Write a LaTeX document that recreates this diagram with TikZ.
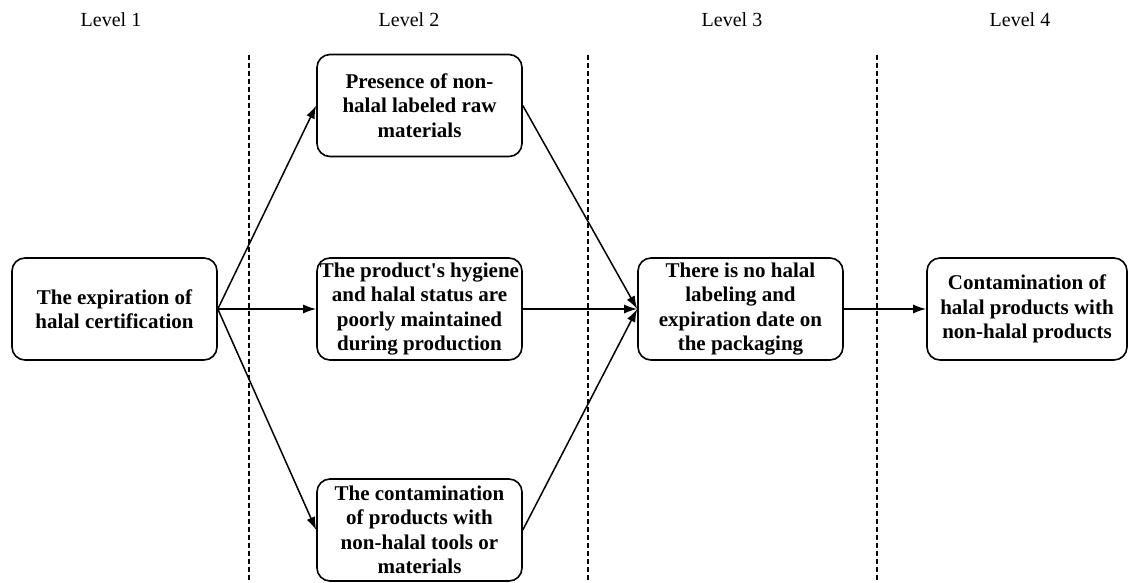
\documentclass[tikz,border=0pt]{standalone}
\usepackage{fontspec}
\setmainfont{Liberation Serif}
\usetikzlibrary{arrows.meta}
\begin{document}
\begin{tikzpicture}[x=1pt,y=-1pt,
  box/.style={draw, line width=1.6pt, rounded corners=13pt, minimum width=205pt, minimum height=102pt,
    align=center, inner sep=0pt, font=\fontsize{21}{24.5}\selectfont\bfseries},
  lvl/.style={font=\fontsize{20}{24}\selectfont},
  sep/.style={line width=1.5pt, dash pattern=on 5pt off 3pt},
  arr/.style={-{Latex[length=13pt,width=9pt]}, line width=1.5pt}]
\useasboundingbox (0,0) rectangle (1128,582);
% level labels
\node[lvl] (l1) at (111,20) {Level 1};
\node[lvl] (l2) at (409,20) {Level 2};
\node[lvl] (l3) at (732,20) {Level 3};
\node[lvl] (l4) at (1020,20) {Level 4};
% separators
\coordinate (s1t) at (249,55); \coordinate (s1b) at (249,582);
\coordinate (s2t) at (588,55); \coordinate (s2b) at (588,582);
\coordinate (s3t) at (877,55); \coordinate (s3b) at (877,582);
\draw[sep] (s1t) -- (s1b);
\draw[sep] (s2t) -- (s2b);
\draw[sep] (s3t) -- (s3b);
% boxes
\node[box] (b1) at (114.5,309) {The expiration of\\halal certification};
\node[box] (b2a) at (419.5,105.5) {Presence of non-\\halal labeled raw\\materials};
\node[box] (b2b) at (419.5,309) {The product\textquotesingle s hygiene\\and halal status are\\poorly maintained\\during production};
\node[box] (b2c) at (419.5,530) {The contamination\\of products with\\non-halal tools or\\materials};
\node[box] (b3) at (740.5,309) {There is no halal\\labeling and\\expiration date on\\the packaging};
\node[box, minimum width=200pt] (b4) at (1027,309) {Contamination of\\halal products with\\non-halal products};
% connectors
\draw[arr] (b1.east) -- (b2a.west);
\draw[arr] (b1.east) -- (b2b.west);
\draw[arr] (b1.east) -- (b2c.west);
\draw[arr] (b2a.east) -- (b3.west);
\draw[arr] (b2b.east) -- (b3.west);
\draw[arr] (b2c.east) -- (b3.west);
\draw[arr] (b3.east) -- (b4.west);
\end{tikzpicture}
\end{document}
